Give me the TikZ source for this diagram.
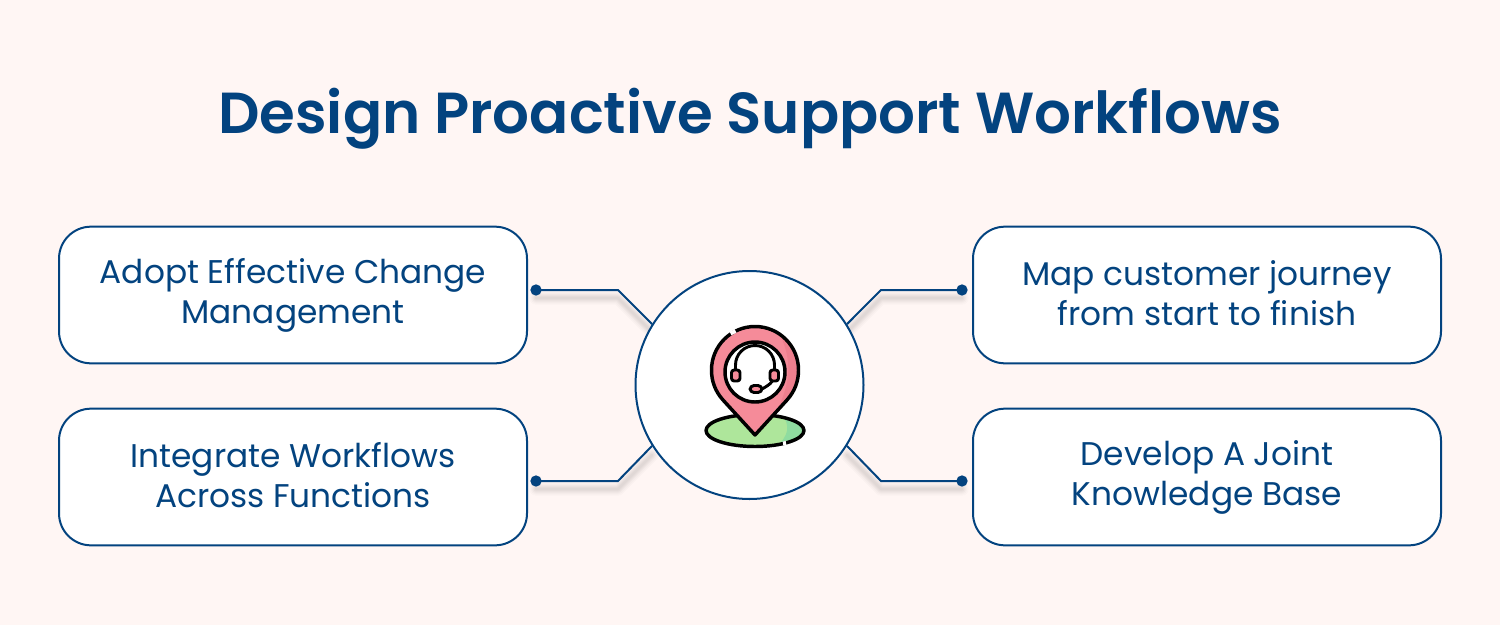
\documentclass[tikz,border=0pt]{standalone}
\usepackage{fontspec}
\setmainfont{Poppins}[BoldFont=* SemiBold]
\definecolor{navy}{HTML}{03437F}
\definecolor{bgc}{HTML}{FFF6F4}
\definecolor{pinc}{HTML}{F58B99}
\definecolor{pind}{HTML}{EE7F8E}
\definecolor{grn}{HTML}{AEE69B}
\definecolor{grnd}{HTML}{8FDCA0}
\newcommand{\cardtext}[2]{\rule{0pt}{20pt}#1\\#2\rule[-5pt]{0pt}{5pt}}
\tikzset{
 card/.style={draw=navy,line width=1.5pt,fill=white,rounded corners=24pt,minimum width=351pt,minimum height=102.5pt,align=center,text=navy,font=\fontsize{24.6}{30}\selectfont},
 wire/.style={draw=navy,line width=1.5pt},
 glow/.style={draw=black,line cap=round,line join=round},
 pindot/.style={circle,fill=navy,inner sep=0pt,minimum size=8.5pt},
 ink/.style={draw=black,line width=2.6pt,line cap=round,line join=round}
}
\newcommand{\softwire}[3]{%
 \foreach \w/\o in {10/0.015,8/0.02,6/0.025,4/0.03,2/0.03}{
  \draw[glow,line width=\w pt,opacity=\o] ([shift={(0,8)}]#1) -- ([shift={(0,8)}]#2) -- ([shift={(0,8)}]#3);}}
\newcommand{\pinpath}{(755,435) -- (723,400) .. controls (715,391) and (711.5,381) .. (711.5,370) arc[start angle=180,end angle=360,radius=43.5] .. controls (798.5,381) and (795,391) .. (787,400) -- cycle}
\begin{document}
\begin{tikzpicture}[x=0.75pt,y=-0.75pt]
\useasboundingbox (0,0) rectangle (1500,625);
\fill[bgc] (0,0) rectangle (1500,625);
\node[text=navy,font=\fontsize{43.4}{50}\selectfont\bfseries] (title) at (750,119) {Design Proactive Support Workflows};
\node[card] (c1) at (293,295) {\cardtext{Adopt Effective Change}{Management}};
\node[card] (c2) at (293,477) {\cardtext{Integrate Workflows}{Across Functions}};
\node[card] (c3) at (1207,295) {\cardtext{Map customer journey}{from start to finish}};
\node[card] (c4) at (1207,477) {\cardtext{Develop A Joint}{Knowledge Base}};
\coordinate (hc) at (749.5,385);
\coordinate (e1) at (618,290);
\coordinate (e2) at (618,481);
\coordinate (e3) at (881,290);
\coordinate (e4) at (881,481);
\coordinate (h1) at (652,324);
\coordinate (h2) at (652,447);
\coordinate (h3) at (847,324);
\coordinate (h4) at (847,447);
\coordinate (d1) at (536,290);
\coordinate (d2) at (536,481);
\coordinate (d3) at (962,290);
\coordinate (d4) at (962,481);
\softwire{d1}{e1}{h1}
\softwire{d2}{e2}{h2}
\softwire{d3}{e3}{h3}
\softwire{d4}{e4}{h4}
\node[pindot] (p1) at (d1) {};
\node[pindot] (p2) at (d2) {};
\node[pindot] (p3) at (d3) {};
\node[pindot] (p4) at (d4) {};
\node[circle,draw=navy,line width=1.5pt,fill=white,minimum size=171pt,inner sep=0pt] (hub) at (hc) {};
\draw[wire] (p1.center) -- (e1) -- (hub.148);
\draw[wire] (p2.center) -- (e2) -- (hub.212);
\draw[wire] (p3.center) -- (e3) -- (hub.32);
\draw[wire] (p4.center) -- (e4) -- (hub.328);
% icon
\fill[grn] (755,430.5) ellipse [x radius=49,y radius=16];
\begin{scope}
\clip (755,430.5) ellipse [x radius=49,y radius=16];
\fill[grnd] (782,415) .. controls (790,425) and (790,435) .. (775,448) -- (810,448) -- (810,415) -- cycle;
\end{scope}
\draw[ink] (755,430.5) ellipse [x radius=49,y radius=16];
\fill[pinc] \pinpath;
\begin{scope}
\clip \pinpath;
\fill[pind] (780,335) .. controls (795,365) and (790,395) .. (762,435) -- (800,435) -- (800,335) -- cycle;
\end{scope}
\draw[ink] \pinpath;
\draw[white,line width=3pt] (730.5,333.5) -- (735.5,331);
\draw[white,line width=3pt] (783,443.5) -- (786,443);
\draw[ink,fill=white] (755,372) circle [radius=30];
\draw[ink,line width=2.2pt] (735.5,372) -- (735.5,365) arc[start angle=180,end angle=360,radius=19.5] -- (774.5,372) .. controls (774.5,381) and (771,384) .. (762,389);
\draw[ink,line width=2.2pt,fill=pinc,rounded corners=2pt] (731.5,370) rectangle (740,381);
\draw[ink,line width=2.2pt,fill=pinc,rounded corners=2pt] (770,370) rectangle (778.5,381);
\draw[ink,line width=2.2pt,fill=pinc,rounded corners=3pt] (750,385.5) rectangle (762,392.5);
\end{tikzpicture}
\end{document}
